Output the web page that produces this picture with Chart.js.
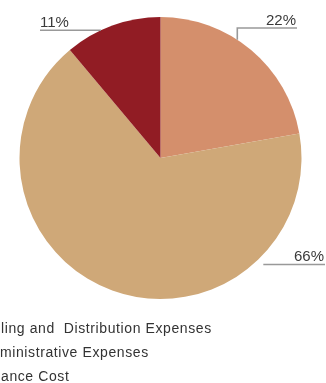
<!DOCTYPE html>
<html>
<head>
<meta charset="utf-8">
<script src="https://cdn.jsdelivr.net/npm/chart.js@4/dist/chart.umd.min.js"></script>
<style>
  html, body { margin: 0; padding: 0; background: #fff; overflow: hidden; }
  #grafico_custos { display: block; }
</style>
</head>
<body>
<canvas id="grafico_custos" width="326" height="383"></canvas>
<script>
const categorias = ['Selling and  Distribution Expenses', 'Administrative Expenses', 'Finance Cost']
const percentuais = [22, 66, 11]
const cores = ['#d48f6c', '#cfa878', '#911c24']

// where each leader line leaves the slice (degrees, canvas angle) and how it runs
const guias = [
  { angulo: -57, ate_y: 28, ate_x: 297, texto_x: 296, alinhar: 'right' },
  { angulo: 46, gap: 7, ate_x: 325, texto_x: 324, alinhar: 'right' },
  { angulo: -115, ate_x: 40, texto_x: 40, alinhar: 'left' }
]

// legend sits partly past the left edge: chars hidden per row, and where the rest begins
const legenda_corte = [3, 2, 3]
const legenda_inicio = [1, 0, 1]

const rotulos_plugin = {
  id: 'rotulos',
  afterDatasetsDraw(chart) {
    const ctx = chart.ctx
    const meta = chart.getDatasetMeta(0)
    ctx.save()
    meta.data.forEach((arco, i) => {
      const g = guias[i]
      const a = g.angulo * Math.PI / 180
      const r = arco.outerRadius + (g.gap || 0)
      const px = arco.x + Math.cos(a) * r
      const py = arco.y + Math.sin(a) * r
      const y_linha = g.ate_y !== undefined ? g.ate_y : py

      ctx.strokeStyle = '#999999'
      ctx.lineWidth = 1.6
      ctx.beginPath()
      ctx.moveTo(px, py)
      if (g.ate_y !== undefined) ctx.lineTo(px, y_linha)
      ctx.lineTo(g.ate_x, y_linha)
      ctx.stroke()

      ctx.fillStyle = '#3a3a3a'
      ctx.font = '15px "Liberation Sans", Arial, sans-serif'
      ctx.textAlign = g.alinhar
      ctx.textBaseline = 'alphabetic'
      ctx.fillText(`${percentuais[i]}%`, g.texto_x, y_linha - 3)
    })

    ctx.font = '14px "Liberation Sans", Arial, sans-serif'
    ctx.letterSpacing = '0.6px'
    ctx.textAlign = 'left'
    ctx.fillStyle = '#333'
    categorias.forEach((nome, i) => {
      const escondido = ctx.measureText(nome.slice(0, legenda_corte[i])).width
      ctx.fillText(nome, legenda_inicio[i] - escondido, 333 + i * 24)
    })
    ctx.restore()
  }
}

new Chart(document.getElementById('grafico_custos'), {
  type: 'pie',
  data: {
    labels: categorias,
    datasets: [{
      data: percentuais,
      backgroundColor: cores,
      borderWidth: 0
    }]
  },
  options: {
    responsive: false,
    animation: false,
    devicePixelRatio: 1,
    layout: { padding: { left: 19.5, right: 24.5, top: 17, bottom: 84 } },
    plugins: {
      legend: { display: false },
      tooltip: { enabled: false }
    }
  },
  plugins: [rotulos_plugin]
})
</script>
</body>
</html>
